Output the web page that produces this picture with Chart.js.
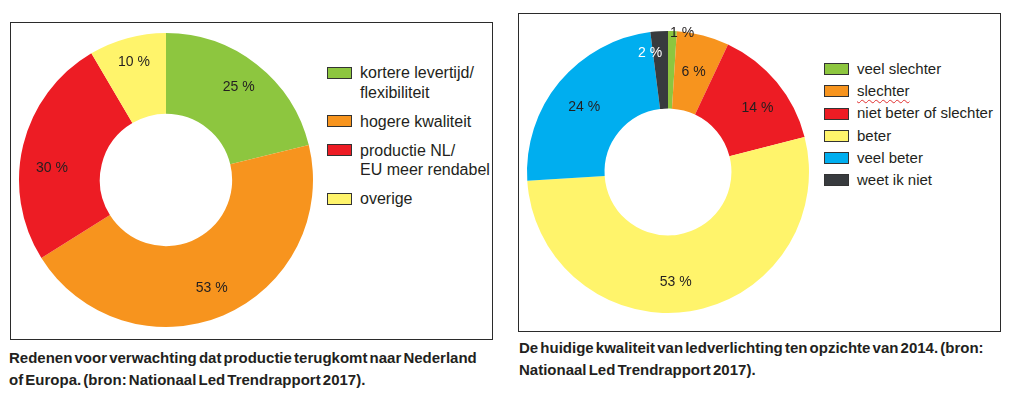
<!DOCTYPE html>
<html>
<head>
<meta charset="utf-8">
<script src="https://cdn.jsdelivr.net/npm/chart.js@4/dist/chart.umd.min.js"></script>
<style>
  html, body { margin: 0; padding: 0; background: #fff; }
  body { width: 1009px; height: 398px; position: relative; overflow: hidden;
         font-family: "Liberation Sans", Arial, sans-serif; color: #231f20; }
  .panel { position: absolute; border: 1px solid #2b2b2b; box-sizing: border-box; }
  .chartbox { position: absolute; }
  .legend { position: absolute; font-size: 15px; line-height: 19.5px; color: #231f20; }
  .legend .item { position: relative; padding-left: 33px; white-space: pre-line; }
  .legend .sw { position: absolute; left: 0; width: 25px; height: 12px; box-sizing: border-box;
                border: 1px solid #333; }
  .caption { position: absolute; font-weight: bold; font-size: 15px; line-height: 22px;
             color: #231f20; word-spacing: -2px; white-space: nowrap; }
  .spell { text-decoration: underline wavy #e03030; text-decoration-thickness: 1px; text-underline-offset: 3px; }
</style>
</head>
<body>
<div class="panel" style="left:10px; top:22px; width:483px; height:318px;"></div>
<div class="panel" style="left:518px; top:13px; width:483px; height:319px;"></div>

<div class="chartbox" style="left:9px; top:23px; width:314px; height:314px;"><canvas id="c1" width="314" height="314"></canvas></div>
<div class="chartbox" style="left:517px; top:21px; width:302px; height:302px;"><canvas id="c2" width="302" height="302"></canvas></div>

<div class="legend" id="leg1" style="left:327px; top:63px; font-size:16px;"></div>
<div class="legend" id="leg2" style="left:824px; top:58px; line-height:22.2px;"></div>

<div class="caption" style="left:9px; top:347px;">Redenen voor verwachting dat productie terugkomt naar Nederland<br>of Europa. (bron: Nationaal Led Trendrapport 2017).</div>
<div class="caption" style="left:519px; top:337px;">De huidige kwaliteit van ledverlichting ten opzichte van 2014. (bron:<br>Nationaal Led Trendrapport 2017).</div>

<script>
// ---- Data: chart 1 (reasons, multi-response, sums to 118%) ----
const reasonLabels = ["kortere levertijd/\nflexibiliteit", "hogere kwaliteit", "productie NL/\nEU meer rendabel", "overige"];
const reasonValues = [25, 53, 30, 10];
const reasonColors = ["#8dc63f", "#f7941e", "#ed1c24", "#fff46b"];

// ---- Data: chart 2 (quality vs 2014) ----
const qualityLabels = ["veel slechter", "slechter", "niet beter of slechter", "beter", "veel beter", "weet ik niet"];
const qualityValues = [1, 6, 14, 53, 24, 2];
const qualityColors = ["#8dc63f", "#f7941e", "#ed1c24", "#fff46b", "#00aeef", "#383b3e"];

// Plugin: draws percentage labels at each arc
const pctLabels = {
  id: 'pctLabels',
  afterDatasetsDraw(chart, args, opts) {
    const ctx = chart.ctx;
    const meta = chart.getDatasetMeta(0);
    const data = chart.data.datasets[0].data;
    ctx.save();
    ctx.font = '14px "Liberation Sans", Arial, sans-serif';
    ctx.textAlign = 'center';
    ctx.textBaseline = 'middle';
    meta.data.forEach((arc, i) => {
      const p = arc.getProps(['x', 'y', 'startAngle', 'endAngle', 'outerRadius'], true);
      const ov = (opts.overrides && opts.overrides[i]) || {};
      const ang = (p.startAngle + p.endAngle) / 2 + (ov.da || 0) * Math.PI / 180;
      const r = p.outerRadius * (ov.r || opts.r || 0.8);
      ctx.fillStyle = ov.color || '#231f20';
      ctx.fillText(data[i] + ' %', p.x + Math.cos(ang) * r, p.y + Math.sin(ang) * r);
    });
    ctx.restore();
  }
};

function makeChart(id, labels, values, colors, labelOpts) {
  return new Chart(document.getElementById(id), {
    type: 'doughnut',
    data: {
      labels: labels,
      datasets: [{ data: values, backgroundColor: colors, borderWidth: 0 }]
    },
    options: {
      responsive: false,
      animation: false,
      cutout: '45%',
      layout: { padding: 10 },
      plugins: {
        legend: { display: false },
        tooltip: { enabled: false },
        pctLabels: labelOpts
      }
    },
    plugins: [pctLabels]
  });
}

makeChart('c1', reasonLabels, reasonValues, reasonColors,
  { r: 0.8, overrides: { 2: { da: -8, r: 0.78 }, 3: { r: 0.83 } } });
makeChart('c2', qualityLabels, qualityValues, qualityColors,
  { r: 0.78, overrides: { 0: { da: 4, r: 0.99 }, 1: { r: 0.73 }, 2: { da: 4 }, 3: { da: 5 }, 4: { r: 0.75, da: -2 }, 5: { da: -5, r: 0.85, color: '#ffffff' } } });

function makeLegend(elId, labels, colors, gap) {
  const el = document.getElementById(elId);
  const lh = parseFloat(getComputedStyle(el).lineHeight);
  labels.forEach((lab, i) => {
    const item = document.createElement('div');
    item.className = 'item';
    item.style.marginBottom = gap + 'px';
    const sw = document.createElement('span');
    sw.className = 'sw';
    sw.style.background = colors[i];
    sw.style.top = (lh / 2 - 6) + 'px';
    item.appendChild(sw);
    const t = document.createElement('span');
    t.textContent = lab;
    if (lab === 'slechter') t.className = 'spell';
    item.appendChild(t);
    el.appendChild(item);
  });
}
makeLegend('leg1', reasonLabels, reasonColors, 9.5);
makeLegend('leg2', qualityLabels, qualityColors, 0);
</script>
</body>
</html>
